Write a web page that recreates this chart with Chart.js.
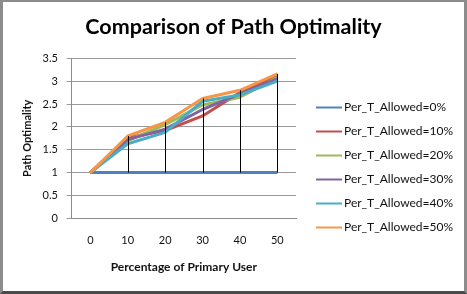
<!DOCTYPE html>
<html>
<head>
<meta charset="utf-8">
<script src="https://cdn.jsdelivr.net/npm/chart.js@4.4.1/dist/chart.umd.min.js"></script>
<style>
  html, body { margin: 0; padding: 0; background: #fff; }
  #frame {
    position: absolute; left: 0; top: 0;
    width: 467px; height: 294px; box-sizing: border-box;
    border-left: 3px solid #8c8c8c; border-right: 3px solid #8c8c8c;
    border-top: 2px solid #8c8c8c; border-bottom: 3px solid #4a4a4a;
    background: #fff;
  }
  canvas { display: block; }
</style>
</head>
<body>
<div id="frame"><canvas id="c" width="461" height="289"></canvas></div>
<script>
const categories = ['0', '10', '20', '30', '40', '50'];
const seriesNames = ['Per_T_Allowed=0%', 'Per_T_Allowed=10%', 'Per_T_Allowed=20%',
                     'Per_T_Allowed=30%', 'Per_T_Allowed=40%', 'Per_T_Allowed=50%'];
const allowed0  = [1, 1, 1, 1, 1, 1];
const allowed10 = [1, 1.76, 1.92, 2.24, 2.75, 3.12];
const allowed20 = [1, 1.70, 2.05, 2.48, 2.65, 3.08];
const allowed30 = [1, 1.72, 1.95, 2.38, 2.72, 3.05];
const allowed40 = [1, 1.63, 1.88, 2.56, 2.70, 3.00];
const allowed50 = [1, 1.80, 2.10, 2.62, 2.80, 3.16];
const yTickLabels = ['0', '0.5', '1', '1.5', '2', '2.5', '3', '3.5'];
const seriesColors = ['#4F81BD', '#C0504D', '#9BBB59', '#8064A2', '#4BACC6', '#F79646'];

const seriesValues = [allowed0, allowed10, allowed20, allowed30, allowed40, allowed50];
const FONT = 'Lato';

// High-low lines: from the highest to the lowest series value at each category
const hiLoPlugin = {
  id: 'hiLo',
  afterDatasetsDraw(chart) {
    const { ctx } = chart;
    const x = chart.scales.x, y = chart.scales.y;
    ctx.save();
    ctx.strokeStyle = '#000';
    ctx.lineWidth = 1;
    categories.forEach((c, i) => {
      const vals = chart.data.datasets.map(d => d.data[i]);
      const hi = Math.max(...vals), lo = Math.min(...vals);
      if (hi === lo) return;
      const px = Math.round(x.getPixelForValue(i)) + 0.5;
      ctx.beginPath();
      ctx.moveTo(px, y.getPixelForValue(hi));
      ctx.lineTo(px, y.getPixelForValue(lo));
      ctx.stroke();
    });
    ctx.restore();
  }
};

// Legend drawn to the right of the plot, rows built from the datasets
const sideLegend = {
  id: 'sideLegend',
  afterDraw(chart) {
    const { ctx, chartArea } = chart;
    const lineX = chartArea.right + 20;
    const lineW = 26;
    const top = 105, pitch = 24;
    ctx.save();
    ctx.font = '12px ' + FONT;
    ctx.textBaseline = 'middle';
    ctx.textAlign = 'left';
    chart.data.datasets.forEach((ds, i) => {
      const y = top + pitch * i;
      ctx.strokeStyle = ds.borderColor;
      ctx.lineWidth = 2;
      ctx.beginPath();
      ctx.moveTo(lineX, Math.round(y) + 0.5);
      ctx.lineTo(lineX + lineW, Math.round(y) + 0.5);
      ctx.stroke();
      ctx.fillStyle = '#111';
      ctx.fillText(ds.label, lineX + lineW + 2, y);
    });
    ctx.restore();
  }
};

new Chart(document.getElementById('c'), {
  type: 'line',
  data: {
    labels: categories,
    datasets: seriesValues.map((vals, i) => ({
      label: seriesNames[i],
      data: vals,
      borderColor: seriesColors[i],
      backgroundColor: seriesColors[i],
      borderWidth: 3,
      pointRadius: 0,
      tension: 0,
      borderJoinStyle: 'round',
      order: seriesValues.length - 1 - i,
      yAxisID: 'y'
    }))
  },
  options: {
    responsive: false,
    animation: false,
    plugins: {
      title: {
        display: true,
        text: 'Comparison of Path Optimality',
        color: '#000',
        font: { family: FONT, size: 21.5, weight: 'bold' },
        padding: { top: 12, bottom: 18.5 }
      },
      legend: { display: false },
      tooltip: { enabled: false }
    },
    scales: {
      x: {
        type: 'category',
        offset: true,
        grid: { display: false, drawTicks: true, tickLength: 3.6 },
        border: { display: true, color: '#8c8c8c' },
        ticks: { color: '#111', font: { family: FONT, size: 11 }, padding: 12.2 },
        title: {
          display: true,
          text: 'Percentage of Primary User',
          color: '#111',
          font: { family: FONT, size: 12, weight: 'bold' },
          padding: { top: 0, bottom: 17.1 }
        }
      },
      y: {
        min: 0, max: 3.5,
        ticks: {
          stepSize: 0.5,
          color: '#111',
          font: { family: FONT, size: 11 },
          padding: 8.7,
          callback: (v, i) => yTickLabels[i]
        },
        grid: { color: '#999999', tickLength: 5, drawTicks: true },
        border: { display: true, color: '#8c8c8c' },
        title: {
          display: true,
          text: 'Path Optimality',
          color: '#111',
          font: { family: FONT, size: 11, weight: 'bold' },
          padding: { top: 17.7, bottom: 0 }
        }
      },
      legendSpace: {
        type: 'linear',
        position: 'right',
        display: true,
        grid: { display: false, drawTicks: false },
        border: { display: false },
        ticks: { display: false },
        afterFit: (s) => { s.width = 168; }
      }
    }
  },
  plugins: [hiLoPlugin, sideLegend]
});
</script>
</body>
</html>
